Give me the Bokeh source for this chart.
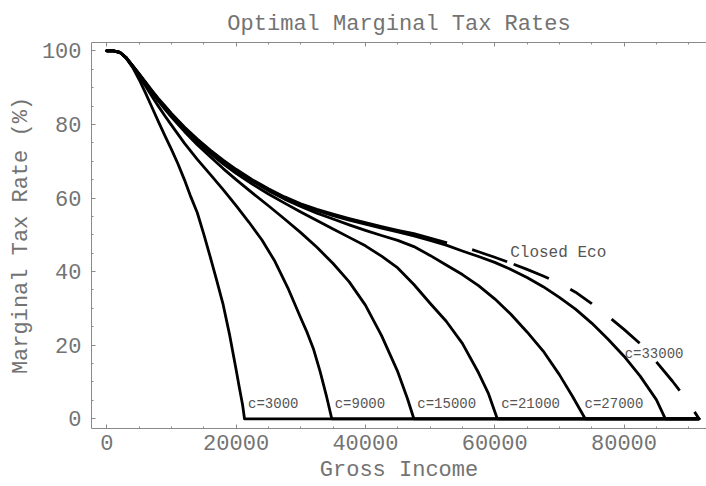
import math
from bokeh.plotting import figure
from bokeh.models import SingleIntervalTicker, LinearAxis, Range1d
from bokeh.core.properties import value
from bokeh.embed import file_html
from bokeh.resources import INLINE

# ---- data -------------------------------------------------------------
x_closed = [0, 1000, 2000, 3000, 4000, 5000, 6000, 7000, 8000, 9000, 10000, 12000, 14000,
            16000, 18000, 20000, 22500, 25000, 27500, 30000, 32500, 35000, 37500, 40000,
            42500, 45000, 47500, 50000, 52500, 55000, 57500, 60000, 62500, 65000, 67500,
            70000, 72500, 75000, 77500, 80000, 82500, 85000, 87500, 89000, 90500, 91600]
y_closed = [100, 100, 99.6, 98.2, 96.0, 93.8, 91.5, 89.2, 87.0, 85.0, 83.0, 79.3, 76.0,
            73.0, 70.3, 67.8, 65.0, 62.5, 60.3, 58.4, 56.9, 55.6, 54.4, 53.3,
            52.2, 51.2, 50.3, 49.1, 47.9, 46.8, 45.4, 43.9, 42.3, 40.6, 38.8,
            36.8, 34.4, 31.3, 27.9, 24.3, 20.4, 15.5, 10.2, 6.8, 3.0, 0.0]

x_c33000 = [0, 1000, 2000, 3000, 4000, 5000, 6000, 7000, 8000, 9000, 10000, 12000, 14000,
            16000, 18000, 20000, 22500, 25000, 27500, 30000, 32500, 35000, 37500, 40000,
            42500, 45000, 47500, 50000, 52500, 55000, 57500, 60000, 62500, 65000, 67500,
            70000, 72500, 75000, 77500, 80000, 82500, 85000, 86400, 91600]
y_c33000 = [100, 100, 99.6, 98.1, 95.9, 93.6, 91.3, 89.0, 86.8, 84.8, 82.8, 79.1, 75.8,
            72.8, 70.1, 67.6, 64.8, 62.3, 60.1, 58.2, 56.6, 55.2, 54.0, 52.9,
            51.8, 50.8, 49.7, 48.5, 47.2, 45.6, 44.1, 42.5, 40.6, 38.4, 35.9,
            33.0, 29.8, 26.0, 21.7, 17.0, 11.6, 5.2, 0, 0]

x_c27000 = [0, 1000, 2000, 3000, 4000, 5000, 6000, 7000, 8000, 9000, 10000, 12000, 14000,
            16000, 18000, 20000, 22500, 25000, 27500, 30000, 32500, 35000, 37500, 40000,
            42500, 45000, 47500, 50000, 52500, 55000, 57500, 60000, 62500, 65000, 67500,
            70000, 72000, 74000, 91600]
y_c27000 = [100, 100, 99.6, 98.1, 95.9, 93.6, 91.2, 88.9, 86.6, 84.6, 82.6, 78.9, 75.6,
            72.6, 69.9, 67.4, 64.6, 62.0, 59.7, 57.7, 55.9, 54.3, 52.7, 51.2,
            49.8, 48.5, 46.8, 44.4, 41.8, 39.2, 36.2, 32.6, 28.4, 23.6, 18.4,
            12.0, 6.2, 0, 0]

x_c21000 = [0, 1000, 2000, 3000, 4000, 5000, 6000, 7000, 8000, 9000, 10000, 12000, 14000,
            16000, 18000, 20000, 22500, 25000, 27500, 30000, 32500, 35000, 37500, 40000,
            42500, 45000, 47500, 50000, 52500, 55000, 57500, 59000, 60400, 91600]
y_c21000 = [100, 100, 99.6, 98.1, 95.9, 93.5, 91.1, 88.8, 86.5, 84.4, 82.4, 78.6, 75.2,
            72.1, 69.3, 66.7, 63.8, 61.1, 58.6, 56.2, 53.9, 51.6, 49.3, 47.0,
            44.2, 41.0, 36.5, 31.4, 26.5, 20.5, 12.5, 7.0, 0, 0]

x_c15000 = [0, 1000, 2000, 3000, 4000, 5000, 6000, 7000, 8000, 9000, 10000, 12000, 14000,
            16000, 18000, 20000, 22500, 25000, 27500, 30000, 32500, 35000, 37500, 40000,
            42500, 45000, 46500, 47500, 91600]
y_c15000 = [100, 100, 99.6, 98.1, 95.8, 93.4, 91.0, 88.6, 86.3, 84.1, 82.0, 78.1, 74.5,
            71.2, 68.0, 65.0, 61.4, 57.9, 54.3, 50.6, 46.6, 42.2, 37.2, 30.9,
            22.6, 12.8, 5.5, 0, 0]

x_c9000 = [0, 1000, 2000, 3000, 4000, 5000, 6000, 7000, 8000, 9000, 10000, 12000, 14000,
           16000, 18000, 20000, 22000, 24000, 26000, 28000, 30000, 31000, 32000, 33000,
           34000, 34800, 91600]
y_c9000 = [100, 100, 99.6, 98.1, 95.7, 93.1, 90.4, 87.6, 84.9, 82.3, 79.8, 74.9, 70.5,
           66.4, 62.3, 57.9, 53.4, 48.6, 42.8, 35.6, 27.4, 23.4, 18.8, 12.8,
           6.0, 0, 0]

x_c3000 = [0, 1000, 2000, 3000, 4000, 5000, 6000, 7000, 8000, 9000, 10000, 11000, 12000,
           13000, 14000, 15000, 16000, 17000, 18000, 19000, 20000, 20500, 21000, 21300, 91600]
y_c3000 = [100, 100, 99.6, 98.0, 95.5, 92.2, 88.5, 84.6, 80.7, 76.9, 73.2, 69.3, 65.0,
           60.3, 56.0, 50.2, 44.0, 37.6, 31.0, 22.8, 13.4, 8.5, 3.8, 0, 0]

label_text = ["c=3000", "c=9000", "c=15000", "c=21000", "c=27000", "c=33000"]
label_x = [21850, 35250, 48030, 61000, 73900, 80100]
label_y = [4.0, 4.0, 4.0, 4.0, 4.0, 17.6]

closed_label = ["Closed Eco"]
closed_label_x = [62400]
closed_label_y = [45.1]

x_tick_step = 20000
y_tick_step = 20

# ---- layout / style -----------------------------------------------------
W, H = 706, 486
BL, BR, BT, BB = 91, 0, 42, 58
X0, X1 = -2365, 92760
Y0, Y1 = -2.64, 102.26

FONT = "Liberation Mono"
GREY = "#8a8a8a"
TXT = "#737373"

# dash boundaries of the "Closed Eco" curve (x positions where dashes/gaps switch)
dash_switch_x = [52670, 56530, 61950, 62970, 68380, 71730, 75090, 78180,
                 82560, 85130, 88740, 91060]

px_x = (W - BL - BR) / (X1 - X0)
px_y = (H - BT - BB) / (Y1 - Y0)


def arclen_to(xq):
    L = 0.0
    for i in range(1, len(x_closed)):
        x0, y0, x1, y1 = x_closed[i - 1], y_closed[i - 1], x_closed[i], y_closed[i]
        seg = math.hypot((x1 - x0) * px_x, (y1 - y0) * px_y)
        if x1 <= xq:
            L += seg
        else:
            if x0 < xq:
                L += seg * (xq - x0) / (x1 - x0)
            break
    return L


marks = [arclen_to(v) for v in dash_switch_x]
dash = [marks[0]] + [marks[i] - marks[i - 1] for i in range(1, len(marks))] + [200, 10]
dash_str = " ".join(str(max(1, int(round(d)))) for d in dash)

p = figure(width=W, height=H,
           x_range=Range1d(X0, X1), y_range=Range1d(Y0, Y1),
           x_axis_type=None, y_axis_type=None,
           output_backend="svg", toolbar_location=None,
           min_border_left=BL, min_border_right=BR, min_border_top=BT, min_border_bottom=BB)
p.outline_line_color = None
p.background_fill_color = "white"
p.border_fill_color = "white"

p.title.text = "Optimal Marginal Tax Rates"
p.title.text_font = FONT
p.title.text_font_size = "22px"
p.title.text_font_style = "normal"
p.title.text_color = TXT
p.title.align = "center"
p.title.offset = 3
p.title.standoff = 12


def style(ax):
    ax.axis_line_color = GREY
    ax.axis_line_width = 1
    ax.major_tick_in = 4
    ax.major_tick_out = 0
    ax.minor_tick_in = 2
    ax.minor_tick_out = 0
    ax.major_tick_line_color = GREY
    ax.minor_tick_line_color = GREY
    ax.major_label_text_font = FONT
    ax.major_label_text_color = TXT
    ax.major_label_text_font_size = "22px"
    ax.axis_label_text_font = FONT
    ax.axis_label_text_font_style = "normal"
    ax.axis_label_text_color = TXT
    ax.axis_label_text_font_size = "22px"


xaxis = LinearAxis(ticker=SingleIntervalTicker(interval=x_tick_step, num_minor_ticks=4),
                   axis_label="Gross Income")
style(xaxis)
xaxis.major_label_standoff = 6
xaxis.axis_label_standoff = 5
p.add_layout(xaxis, "below")

xtop = LinearAxis(ticker=SingleIntervalTicker(interval=x_tick_step, num_minor_ticks=4))
style(xtop)
xtop.major_label_text_color = None
xtop.major_label_text_font_size = "1px"
xtop.major_label_standoff = 0
p.add_layout(xtop, "above")

yaxis = LinearAxis(ticker=SingleIntervalTicker(interval=y_tick_step, num_minor_ticks=4),
                   axis_label="Marginal Tax Rate (%)")
style(yaxis)
yaxis.major_label_standoff = 10
yaxis.axis_label_standoff = 5
p.add_layout(yaxis, "left")

LW = 2.8
for xs, ys in [(x_c3000, y_c3000), (x_c9000, y_c9000), (x_c15000, y_c15000),
               (x_c21000, y_c21000), (x_c27000, y_c27000), (x_c33000, y_c33000)]:
    p.line(xs, ys, line_color="black", line_width=LW, line_join="round", line_cap="round")

p.line(x_closed, y_closed, line_color="black", line_width=LW, line_dash=dash_str,
       line_join="round")

p.text(x=label_x, y=label_y, text=label_text, text_font=value(FONT),
       text_font_size="14px", text_baseline="middle", text_align="left", text_color="#555555")
p.text(x=closed_label_x, y=closed_label_y, text=closed_label, text_font=value(FONT),
       text_font_size="16px", text_baseline="middle", text_align="left", text_color="#555555")

open("out.html", "w").write(file_html(p, INLINE))
